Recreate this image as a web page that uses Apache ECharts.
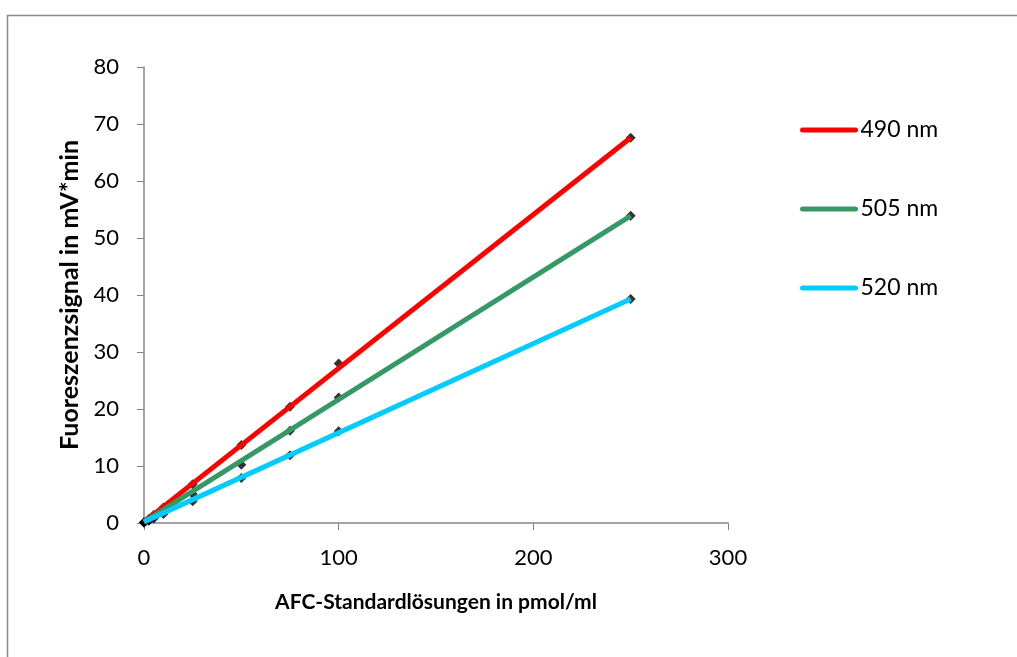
<!DOCTYPE html>
<html>
  <head>
    <meta charset="utf-8">
    <title>AFC Standardlösungen</title>
    <script type="text/javascript" src="https://cdn.jsdelivr.net/npm/echarts@6/dist/echarts.min.js"></script>
    <style>
      html, body { margin: 0; padding: 0; background: #fff; }
      #chart { width: 1017px; height: 657px; }
    </style>
  </head>
  <body>
    <div id="chart"></div>
    <script type="text/javascript">
      // concentrations (pmol/ml)
      var conc = [0, 2.5, 5, 10, 25, 50, 75, 100, 250];
      // measured signal per wavelength (mV*min)
      var sig490 = [0.1, 0.7, 1.4, 2.7, 6.8, 13.7, 20.4, 28.0, 67.6];
      var sig505 = [0.1, 0.5, 1.1, 2.2, 5.1, 10.2, 16.2, 22.0, 53.9];
      var sig520 = [0.1, 0.4, 0.8, 1.6, 3.8, 7.9, 11.9, 16.1, 39.3];
      // trendline end points
      var trendX = [0, 250];
      var trend490 = [0.2, 67.6];
      var trend505 = [0.2, 53.9];
      var trend520 = [0.2, 39.3];
      var names = ['490 nm', '505 nm', '520 nm'];
      var colors = ['#FF0000', '#359966', '#00CCFF'];

      function pairs(xs, ys) {
        return xs.map(function (x, i) { return [x, ys[i]]; });
      }

      var font = 'Lato, "Open Sans", sans-serif';
      var sigs = [sig490, sig505, sig520];
      var trends = [trend490, trend505, trend520];
      var series = [];

      // data points (black diamonds), under the trendlines
      sigs.forEach(function (s, i) {
        series.push({
          name: names[i] + ' Messwerte',
          type: 'scatter',
          symbol: 'diamond',
          symbolSize: 10,
          itemStyle: { color: '#000' },
          z: 2,
          data: pairs(conc, s)
        });
      });
      // linear trendlines
      trends.forEach(function (t, i) {
        series.push({
          name: names[i],
          type: 'line',
          symbol: 'none',
          color: colors[i],
          lineStyle: { width: 5, color: colors[i] },
          z: 3,
          data: pairs(trendX, t)
        });
      });

      var chart = echarts.init(document.getElementById('chart'));
      chart.setOption({
        animation: false,
        textStyle: { fontFamily: font },
        graphic: [{
          type: 'rect',
          left: 5, top: 13,
          shape: { width: 1100, height: 700 },
          style: { fill: 'none', stroke: '#8a8a8a', lineWidth: 1.5 },
          silent: true
        }],
        grid: { left: 144, top: 67, width: 584, height: 456 },
        legend: {
          data: names,
          orient: 'vertical',
          left: 795,
          top: 113,
          itemWidth: 53,
          itemHeight: 24,
          itemGap: 55,
          itemTextGap: 5,
          itemStyle: { opacity: 0 },
          lineStyle: { width: 5, cap: 'round' },
          textStyle: { fontFamily: font, fontSize: 23, color: '#000', lineHeight: 24 }
        },
        xAxis: {
          type: 'value',
          min: 0, max: 300, interval: 100,
          name: 'AFC-Standardlösungen in pmol/ml',
          nameLocation: 'middle',
          nameGap: 69,
          nameTextStyle: { fontFamily: font, fontSize: 21, fontWeight: 'bold', color: '#000' },
          axisLine: { lineStyle: { color: '#868686', width: 1.5 } },
          axisTick: { show: true, length: 7, lineStyle: { color: '#868686' } },
          axisLabel: { margin: 24, fontFamily: font, fontSize: 22, color: '#000' },
          splitLine: { show: false }
        },
        yAxis: {
          type: 'value',
          min: 0, max: 80, interval: 10,
          name: 'Fuoreszenzsignal in mV*min',
          nameLocation: 'middle',
          nameGap: 58,
          nameTextStyle: { fontFamily: font, fontSize: 25, fontWeight: 'bold', color: '#000' },
          axisLine: { show: true, lineStyle: { color: '#868686', width: 1.5 } },
          axisTick: { show: true, length: 7, lineStyle: { color: '#868686' } },
          axisLabel: { margin: 25, fontFamily: font, fontSize: 22, color: '#000' },
          splitLine: { show: false }
        },
        series: series
      });
    </script>
  </body>
</html>
